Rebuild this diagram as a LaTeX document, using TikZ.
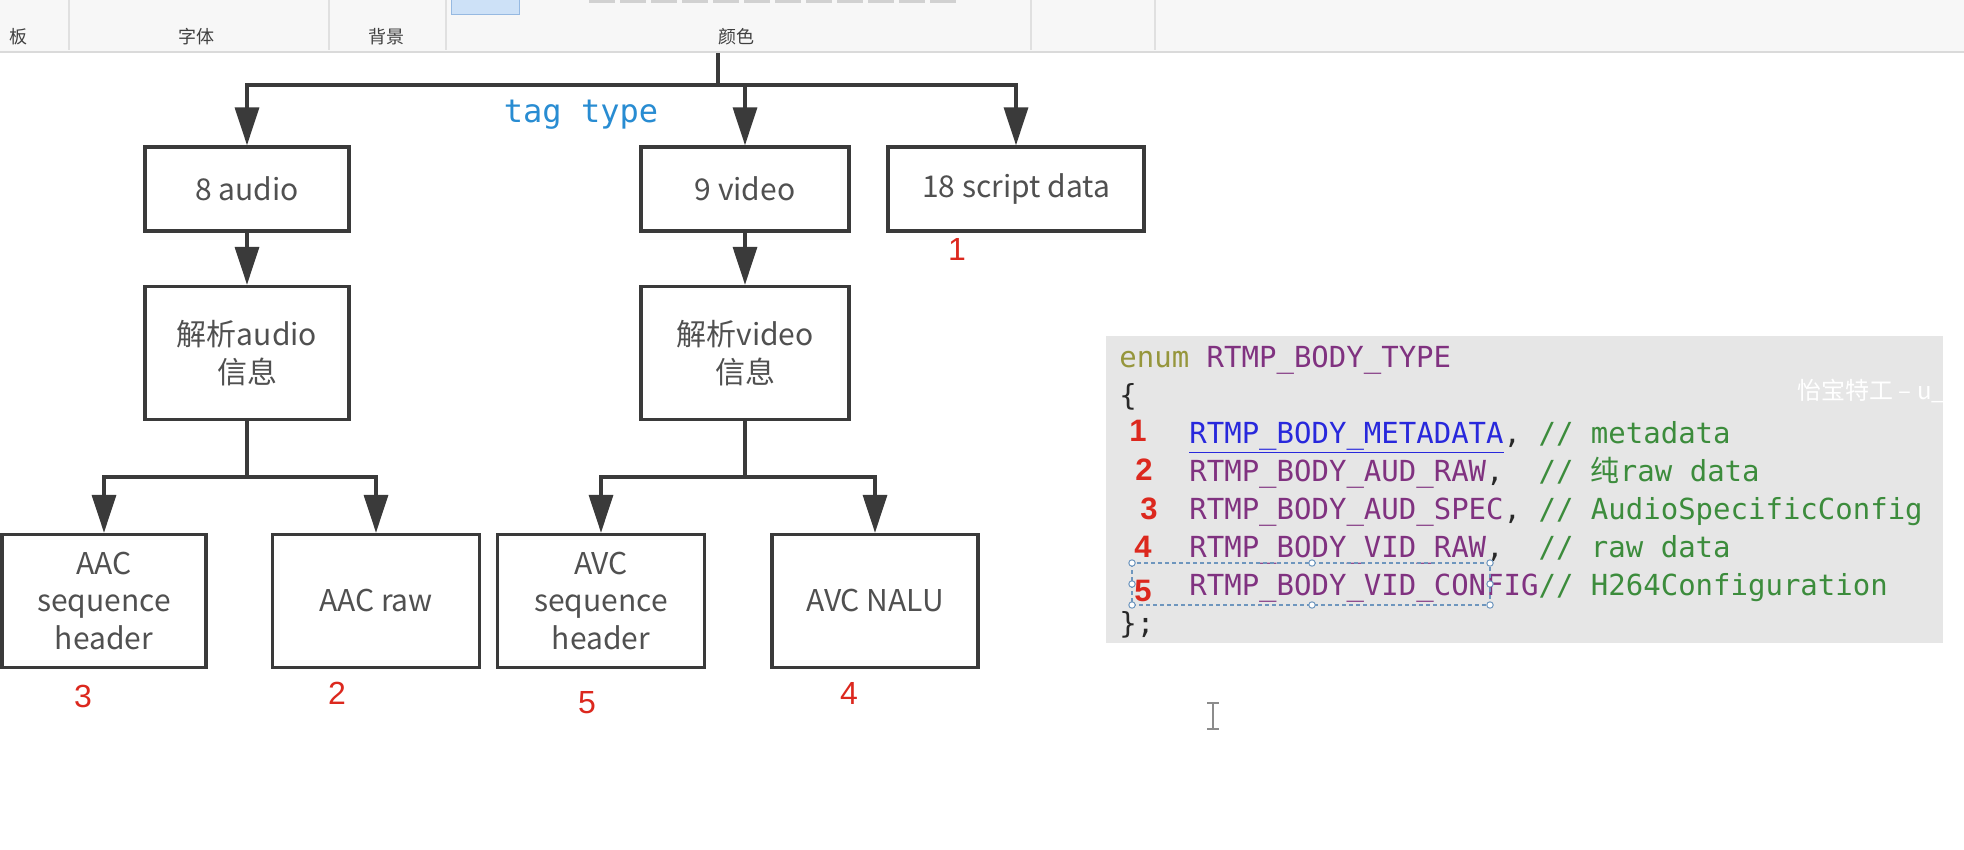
\documentclass[tikz,border=0pt]{standalone}
\usepackage{fontspec}
\setmainfont{Noto Sans CJK SC}
\setmonofont{DejaVu Sans Mono}
\newfontfamily\cjkfont{Noto Sans CJK SC}
\newfontfamily\numfont{Liberation Sans}
\usetikzlibrary{arrows.meta,positioning}
\usepackage{xcolor}
\definecolor{boxgray}{RGB}{58,58,58}
\definecolor{textgray}{RGB}{80,80,80}
\definecolor{numred}{RGB}{220,40,30}
\definecolor{tagblue}{RGB}{40,140,210}
\definecolor{codebg}{RGB}{230,230,230}
\definecolor{kwolive}{RGB}{150,150,60}
\definecolor{idpurple}{RGB}{128,50,128}
\definecolor{linkblue}{RGB}{40,40,220}
\definecolor{cmtgreen}{RGB}{60,140,60}
\definecolor{punct}{RGB}{40,40,40}
\definecolor{barbg}{RGB}{247,247,247}
\definecolor{barline}{RGB}{218,218,218}
\definecolor{selblue}{RGB}{110,150,190}
\newcommand{\idc}[1]{\textcolor{idpurple}{#1}}
\newcommand{\cmt}[1]{\textcolor{cmtgreen}{#1}}

\begin{document}
\begin{tikzpicture}[x=0.5pt, y=-0.5pt,
    tagbox/.style={rectangle, draw=boxgray, line width=1.7pt, align=center,
        text=textgray, font=\fontsize{15}{18.75}\selectfont, inner sep=0pt},
    tagline/.style={line width=1.7pt, boxgray},
    tagarr/.style={-{Triangle[length=19pt, width=12pt]}, line width=1.7pt, boxgray},
    rednum/.style={text=numred, font=\numfont\fontsize{16}{18}\selectfont},
    codenum/.style={text=numred, font=\numfont\bfseries\fontsize{15.5}{18}\selectfont},
    codeline/.style={anchor=base west, inner sep=0pt, text=punct,
        font=\ttfamily\fontsize{14.5}{19}\selectfont},
    barlabel/.style={text=black!75, font=\fontsize{9}{11}\selectfont}
]
    \useasboundingbox (0,0) rectangle (1964,850);
    \fill[white] (0,0) rectangle (1964,850);

    % toolbar strip
    \fill[barbg] (0,0) rectangle (1964,52);
    \draw[barline, line width=1pt] (0,52.5) -- (1964,52.5);
    \foreach \sx in {69,329,446,1031,1155}
        \draw[black!12, line width=0.6pt] (\sx,0) -- (\sx,50);
    \filldraw[fill={rgb,255:red,205;green,225;blue,247}, draw={rgb,255:red,150;green,185;blue,225}]
        (451,-2) rectangle (519,14);
    \foreach \sx in {589,620,...,930}
        \fill[black!18] (\sx,0) rectangle (\sx+26,3);
    \node[barlabel, anchor=west] (lban) at (2,37) {板};
    \node[barlabel] (lfont) at (196,37) {字体};
    \node[barlabel] (lback) at (386,37) {背景};
    \node[barlabel] (lcolor) at (736,37) {颜色};

    % tag type row
    \node[tagbox, minimum width=102pt, minimum height=42pt] (audio) at (247,189) {8 audio};
    \node[tagbox, minimum width=104pt, minimum height=42pt] (video) at (745,189) {9 video};
    \node[tagbox, minimum width=128pt, minimum height=42pt] (script) at (1016,189) {18 script data};
    \node[text=tagblue, font=\ttfamily\fontsize{16}{18}\selectfont] (tagtype) at (581,115) {tag type};
    \node[rednum] (n1) at (957,249) {1};

    \coordinate (root) at (718,53);
    \coordinate (split) at (718,85);
    \draw[tagline] (root) -- (split);
    \draw[tagarr] (split) -| (audio);
    \draw[tagarr] (split) -| (video);
    \draw[tagarr] (split) -| (script);

    % parse boxes
    \node[tagbox, minimum width=102pt, minimum height=66.5pt] (paudio) at (247,353) {解析audio\\信息};
    \node[tagbox, minimum width=104pt, minimum height=66.5pt] (pvideo) at (745,353) {解析video\\信息};
    \draw[tagarr] (audio) -- (paudio);
    \draw[tagarr] (video) -- (pvideo);

    % leaf boxes
    \node[tagbox, minimum width=102pt, minimum height=66.5pt] (aacseq) at (104,601) {AAC\\sequence\\header};
    \node[tagbox, minimum width=103.5pt, minimum height=66.5pt] (aacraw) at (376,601) {AAC raw};
    \node[tagbox, minimum width=103.5pt, minimum height=66.5pt] (avcseq) at (601,601) {AVC\\sequence\\header};
    \node[tagbox, minimum width=103pt, minimum height=66.5pt] (avcnalu) at (875,601) {AVC NALU};

    \coordinate (asplit) at (247,477);
    \coordinate (vsplit) at (745,477);
    \draw[tagline] (paudio) -- (asplit);
    \draw[tagarr] (asplit) -| (aacseq);
    \draw[tagarr] (asplit) -| (aacraw);
    \draw[tagline] (pvideo) -- (vsplit);
    \draw[tagarr] (vsplit) -| (avcseq);
    \draw[tagarr] (vsplit) -| (avcnalu);

    \node[rednum] (n3) at (83,696) {3};
    \node[rednum] (n2) at (337,693) {2};
    \node[rednum] (n5) at (587,703) {5};
    \node[rednum] (n4) at (849,693) {4};

    % enum listing
    \fill[codebg] (1106,336) rectangle (1943,643);
    \node[codeline] (c0) at (1119,367) {\textcolor{kwolive}{enum} \idc{RTMP\_BODY\_TYPE}};
    \node[codeline] (c1) at (1119,405) {\{};
    \node[codeline] (c2) at (1189,443) {\textcolor{linkblue}{\underline{RTMP\_BODY\_METADATA}}, \cmt{// metadata}};
    \node[codeline] (c3) at (1189,481) {\idc{RTMP\_BODY\_AUD\_RAW},\ \ \cmt{// {\cjkfont 纯}raw data}};
    \node[codeline] (c4) at (1189,519) {\idc{RTMP\_BODY\_AUD\_SPEC}, \cmt{// AudioSpecificConfig}};
    \node[codeline] (c5) at (1189,557) {\idc{RTMP\_BODY\_VID\_RAW},\ \ \cmt{// raw data}};
    \node[codeline] (c6) at (1189,595) {\idc{RTMP\_BODY\_VID\_CONFIG}\cmt{// H264Configuration}};
    \node[codeline] (c7) at (1119,633) {\};};

    \node[codenum] (k1) at (1138,431) {1};
    \node[codenum] (k2) at (1144,470) {2};
    \node[codenum] (k3) at (1149,509) {3};
    \node[codenum] (k4) at (1143,547) {4};
    \node[codenum] (k5) at (1143,591) {5};

    % selection frame
    \draw[selblue, line width=0.6pt, dash pattern=on 2pt off 1.5pt] (1132,563) rectangle (1490,605);
    \foreach \hx/\hy in {1132/563,1312/563,1490/563,1132/605,1312/605,1490/605,1132/584,1490/584}
        \filldraw[fill=white, draw=selblue, line width=0.5pt] (\hx,\hy) circle (1.6pt);

    % watermark
    \node[anchor=west, text=white, font=\fontsize{12}{14}\selectfont, inner sep=0pt] (wm) at (1797,391) {怡宝特工 – u\_};

    % text cursor
    \draw[black!45, line width=0.8pt] (1213,703) -- (1213,729)
        (1207,703) -- (1219,703) (1207,729) -- (1219,729);
\end{tikzpicture}
\end{document}
